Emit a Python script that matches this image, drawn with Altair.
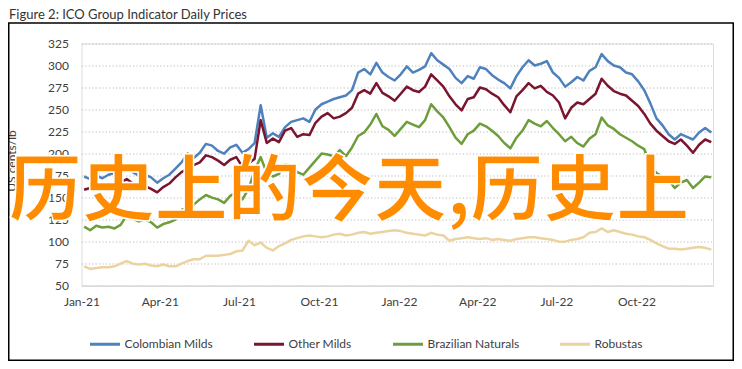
import altair as alt
import pandas as pd

series_names = ["Colombian Milds", "Other Milds", "Brazilian Naturals", "Robustas"]
series_colors = ["#4F81BD", "#7A1530", "#6E9E3C", "#EBD3A0"]

# weekly readings, first week 2021-01-04
colombian = [174, 171, 175, 172, 176, 178, 182, 187, 179, 175, 176, 173, 167, 172, 176, 183,
             190, 200, 195, 201, 211, 209, 203, 200, 207, 210, 201, 205, 212, 255, 218, 223,
             219, 230, 236, 238, 240, 236, 250, 256, 259, 262, 264, 266, 272, 292, 296, 290,
             303, 292, 287, 283, 290, 299, 292, 295, 299, 314, 306, 301, 296, 286, 280, 288,
             285, 298, 296, 289, 284, 280, 274, 288, 298, 306, 300, 302, 305, 292, 286, 276,
             281, 287, 283, 294, 298, 313, 305, 300, 298, 292, 290, 282, 272, 257, 240, 232,
             222, 216, 222, 219, 216, 224, 229, 224]
other_milds = [159, 161, 163, 160, 162, 164, 167, 171, 166, 165, 163, 160, 156, 162, 166, 173,
               179, 183, 187, 190, 198, 196, 192, 187, 193, 196, 185, 189, 194, 238, 212, 217,
               213, 226, 229, 219, 222, 221, 235, 242, 246, 240, 242, 246, 252, 268, 272, 268,
               280, 269, 265, 260, 268, 276, 272, 270, 276, 290, 283, 276, 265, 256, 249, 262,
               264, 275, 273, 268, 264, 255, 247, 265, 272, 280, 274, 277, 270, 266, 258, 240,
               252, 258, 256, 262, 268, 285, 277, 271, 268, 266, 260, 254, 245, 234, 226, 220,
               214, 211, 216, 209, 201, 210, 216, 213]
brazilian = [117, 113, 118, 116, 117, 115, 119, 130, 126, 123, 125, 122, 116, 120, 122, 125,
             136, 139, 142, 148, 153, 150, 148, 144, 152, 156, 148, 160, 181, 196, 178, 174,
             177, 188, 186, 179, 176, 184, 192, 200, 199, 197, 204, 197, 207, 220, 224, 233,
             245, 231, 227, 220, 228, 236, 233, 230, 238, 256, 248, 241, 230, 218, 211, 222,
             226, 234, 231, 226, 220, 212, 206, 218, 226, 238, 234, 231, 237, 229, 222, 214,
             219, 212, 208, 217, 222, 241, 232, 228, 222, 218, 214, 209, 205, 187, 178, 174,
             170, 161, 167, 170, 161, 167, 174, 173]
robustas = [72, 69, 70, 71, 71, 72, 75, 78, 75, 74, 75, 73, 72, 74, 72, 72,
            75, 78, 80, 80, 84, 84, 84, 85, 86, 89, 90, 101, 96, 99, 93, 90,
            95, 98, 102, 104, 106, 107, 106, 105, 106, 108, 109, 107, 108, 110, 111, 109,
            110, 111, 112, 113, 112, 110, 109, 108, 107, 110, 108, 107, 101, 103, 104, 105,
            104, 103, 104, 102, 103, 102, 101, 103, 104, 105, 105, 104, 103, 102, 100, 100,
            102, 103, 105, 110, 111, 115, 111, 113, 111, 109, 108, 106, 105, 102, 98, 95,
            92, 92, 91, 92, 93, 94, 93, 91]

y_ticks = [50, 75, 100, 125, 150, 175, 200, 225, 250, 275, 300, 325]
x_tick_dates = ["2021-01-01", "2021-04-01", "2021-07-01", "2021-10-01",
                "2022-01-01", "2022-04-01", "2022-07-01", "2022-10-01"]

overlay_text = "历史上的今天,历史上"
figure_title = "Figure 2: ICO Group Indicator Daily Prices"

dates = pd.date_range("2021-01-04", periods=len(colombian), freq="7D")
frames = []
for name, vals in zip(series_names, [colombian, other_milds, brazilian, robustas]):
    frames.append(pd.DataFrame({"date": dates, "price": vals, "series": name}))
df = pd.concat(frames, ignore_index=True)
df["order"] = df["series"].map({n: i for i, n in enumerate(series_names)})

tick_vals = [alt.DateTime(year=int(d[:4]), month=int(d[5:7]), date=1) for d in x_tick_dates]

lines = alt.Chart(df).mark_line(strokeWidth=2.5, strokeJoin="round").encode(
    x=alt.X("date:T",
            scale=alt.Scale(domain=[alt.DateTime(year=2021, month=1, date=1),
                                    alt.DateTime(year=2022, month=12, date=28)]),
            axis=alt.Axis(values=tick_vals, format="%b-%y", title=None, grid=False,
                          ticks=False, tickSize=0, labelPadding=11, labelFontSize=12,
                          labelFont="Lato", labelColor="#404040", domain=True,
                          domainColor="#D9D9D9", domainWidth=1.5, labelFlush=False)),
    y=alt.Y("price:Q", scale=alt.Scale(domain=[50, 325], nice=False, zero=False),
            axis=alt.Axis(values=y_ticks, title="US cents/lb", grid=True,
                          gridDash=[1.2, 2.2], gridColor="#BBBBBB", gridWidth=1.2,
                          ticks=False, tickSize=0, domain=False, labelPadding=13,
                          labelFontSize=12, labelFont="Lato", labelColor="#404040",
                          titleFont="Lato", titleFontSize=12, titleFontWeight="normal",
                          titleColor="#404040", titleX=-63, titleY=117)),
    color=alt.Color("series:N", scale=alt.Scale(domain=series_names, range=series_colors),
                    legend=alt.Legend(orient="none", legendX=7, legendY=284,
                                      direction="horizontal", title=None,
                                      symbolType="stroke", symbolSize=900,
                                      symbolStrokeWidth=3, labelFontSize=12,
                                      labelFont="Lato", labelColor="#404040",
                                      columnPadding=34, labelOffset=3, padding=0)),
    order=alt.Order("order:Q"),
    detail="series:N",
)

one = pd.DataFrame({"k": [0]})

overlay = alt.Chart(one).mark_text(
    text=overlay_text, font="Noto Sans CJK SC", fontSize=73, fontWeight="bold",
    color="#FF8C00", stroke="white", strokeWidth=1.5, align="center", baseline="middle"
).encode(x=alt.value(267.5), y=alt.value(149.5))

title = alt.Chart(one).mark_text(
    text=figure_title, font="Lato", fontSize=13, color="#333333", align="left",
    baseline="alphabetic"
).encode(x=alt.value(-72.5), y=alt.value(-24.5))

border = alt.Chart(one).mark_rect(filled=False, stroke="black", strokeWidth=1.5).encode(
    x=alt.value(-72.75), x2=alt.value(651.75), y=alt.value(-20.5), y2=alt.value(316.75)
)

chart = alt.layer(border, lines, overlay, title).properties(
    width=631.5, height=242.2,
    padding={"left": 73.5, "top": 35.5, "right": 21, "bottom": 75.3},
    autosize=alt.AutoSizeParams(type="none"),
).configure_view(stroke=None).configure(background="white")

chart.save("out.html", embed_options={"renderer": "svg", "actions": False})
